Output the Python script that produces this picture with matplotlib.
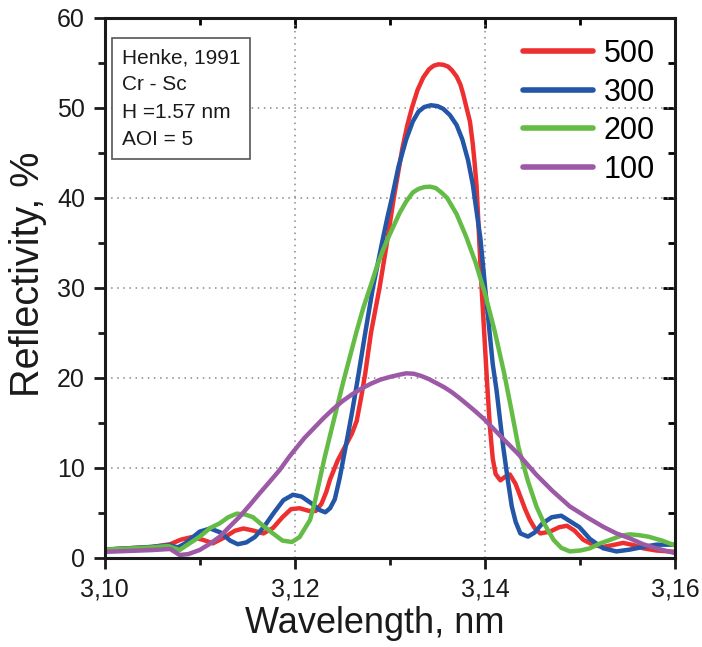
import matplotlib
matplotlib.use("Agg")
import matplotlib.pyplot as plt
from matplotlib.ticker import MultipleLocator, FuncFormatter

plt.rcParams["font.family"] = ["Liberation Sans", "DejaVu Sans"]

# Wellenlaenge (nm) und Reflektivitaet (%) je Periodenzahl
wl_500 = [3.1000, 3.1050, 3.1069, 3.1080, 3.1092, 3.1103, 3.1114, 3.1125, 3.1137, 3.1146,
          3.1157, 3.1167, 3.1177, 3.1187, 3.1196, 3.1205, 3.1215, 3.1222, 3.1228, 3.1233,
          3.1237, 3.1245, 3.1253, 3.1260, 3.1265, 3.1270, 3.1274, 3.1280, 3.1289, 3.1296,
          3.1304, 3.1313, 3.1318, 3.1323, 3.1329, 3.1335, 3.1341, 3.1346, 3.1351, 3.1356,
          3.1361, 3.1365, 3.1370, 3.1374, 3.1377, 3.1380, 3.1384, 3.1387, 3.1389, 3.1391,
          3.1393, 3.1396, 3.1399, 3.1402, 3.1405, 3.1408, 3.1411, 3.1416, 3.1421, 3.1426,
          3.1432, 3.1437, 3.1442, 3.1447, 3.1452, 3.1458, 3.1468, 3.1478, 3.1486, 3.1494,
          3.1503, 3.1514, 3.1524, 3.1534, 3.1545, 3.1556, 3.1566, 3.1580, 3.1600]
r_500 = [0.9, 1.2, 1.5, 2.0, 2.3, 2.0, 1.6, 2.2, 3.0, 3.25,
         3.0, 2.7, 3.3, 4.5, 5.4, 5.5, 5.2, 5.2, 6.0, 7.3,
         8.7, 10.8, 12.4, 13.8, 15.2, 18.0, 20.5, 25.0, 30.0, 34.5,
         40.0, 45.5, 48.0, 50.0, 52.0, 53.4, 54.3, 54.7, 54.85, 54.8,
         54.6, 54.2, 53.5, 52.6, 51.5, 50.2, 48.5, 46.0, 43.8, 41.3,
         37.0, 30.5, 25.0, 19.5, 14.5, 11.0, 9.3, 8.6, 9.0, 9.25,
         8.2, 6.8, 5.4, 4.2, 3.3, 2.7, 2.9, 3.4, 3.55, 3.0,
         2.0, 1.4, 1.2, 1.4, 1.65, 1.4, 1.05, 0.8, 0.65]

wl_300 = [3.1000, 3.1050, 3.1068, 3.1077, 3.1085, 3.1093, 3.1100, 3.1111, 3.1122, 3.1132,
          3.1140, 3.1149, 3.1158, 3.1168, 3.1178, 3.1188, 3.1198, 3.1207, 3.1218, 3.1226,
          3.1232, 3.1237, 3.1242, 3.1247, 3.1251, 3.1256, 3.1260, 3.1266, 3.1274, 3.1282,
          3.1287, 3.1292, 3.1297, 3.1302, 3.1309, 3.1317, 3.1324, 3.1330, 3.1336, 3.1343,
          3.1350, 3.1356, 3.1363, 3.1370, 3.1376, 3.1382, 3.1387, 3.1391, 3.1395, 3.1400,
          3.1403, 3.1408, 3.1412, 3.1419, 3.1424, 3.1428, 3.1432, 3.1437, 3.1445, 3.1452,
          3.1460, 3.1470, 3.1480, 3.1490, 3.1499, 3.1510, 3.1524, 3.1538, 3.1552, 3.1566,
          3.1580, 3.1600]
r_300 = [0.9, 1.2, 1.4, 1.15, 1.6, 2.3, 2.9, 3.25, 2.8, 1.9,
         1.5, 1.7, 2.3, 3.5, 5.0, 6.4, 7.0, 6.8, 6.0, 5.3,
         5.05, 5.5, 6.5, 8.8, 11.0, 13.8, 16.1, 19.8, 25.0, 30.0,
         32.6, 35.2, 37.7, 40.0, 43.5, 46.5, 48.5, 49.6, 50.1, 50.3,
         50.2, 49.9, 49.2, 48.1, 46.5, 44.2, 41.5, 38.5, 35.5, 30.0,
         26.8, 21.5, 18.6, 12.3, 8.5, 5.7, 4.0, 2.7, 2.35, 2.8,
         3.8, 4.5, 4.67, 4.0, 3.4, 2.1, 1.05, 0.7, 0.9, 1.2,
         1.45, 1.45]

wl_200 = [3.1000, 3.1050, 3.1067, 3.1079, 3.1088, 3.1100, 3.1111, 3.1121, 3.1130, 3.1139,
          3.1148, 3.1156, 3.1165, 3.1177, 3.1187, 3.1197, 3.1205, 3.1216, 3.1221, 3.1226,
          3.1231, 3.1237, 3.1244, 3.1251, 3.1258, 3.1265, 3.1272, 3.1279, 3.1286, 3.1293,
          3.1300, 3.1310, 3.1317, 3.1324, 3.1330, 3.1336, 3.1342, 3.1348, 3.1354, 3.1360,
          3.1370, 3.1380, 3.1390, 3.1400, 3.1410, 3.1420, 3.1428, 3.1435, 3.1445, 3.1454,
          3.1462, 3.1472, 3.1480, 3.1489, 3.1500, 3.1510, 3.1521, 3.1531, 3.1543, 3.1552,
          3.1562, 3.1572, 3.1586, 3.1600]
r_200 = [0.9, 1.15, 1.3, 0.86, 1.5, 2.33, 3.3, 3.82, 4.5, 4.9,
         4.8, 4.5, 3.7, 2.7, 1.9, 1.75, 2.3, 4.2, 6.2, 8.6,
         11.0, 13.6, 16.6, 19.6, 22.4, 25.2, 27.8, 30.0, 32.3, 34.3,
         36.0, 38.3, 39.6, 40.6, 41.0, 41.2, 41.25, 41.1, 40.6, 40.0,
         38.2, 35.7, 32.8, 29.3, 25.2, 20.5, 16.2, 12.3, 8.5, 5.67,
         3.8, 1.97, 1.1, 0.7, 0.8, 1.04, 1.6, 1.97, 2.45, 2.6,
         2.5, 2.33, 1.9, 1.35]

wl_100 = [3.1000, 3.1050, 3.1069, 3.1079, 3.1088, 3.1100, 3.1110, 3.1121, 3.1131, 3.1142,
          3.1153, 3.1163, 3.1174, 3.1184, 3.1194, 3.1200, 3.1210, 3.1220, 3.1230, 3.1240,
          3.1250, 3.1260, 3.1270, 3.1280, 3.1290, 3.1300, 3.1310, 3.1317, 3.1325, 3.1333,
          3.1341, 3.1349, 3.1357, 3.1365, 3.1373, 3.1381, 3.1390, 3.1400, 3.1410, 3.1420,
          3.1435, 3.1454, 3.1471, 3.1489, 3.1507, 3.1524, 3.1538, 3.1552, 3.1566, 3.1580,
          3.1600]
r_100 = [0.65, 0.85, 0.97, 0.3, 0.4, 0.86, 1.5, 2.33, 3.4, 4.56,
         5.9, 7.16, 8.5, 9.74, 11.2, 12.0, 13.3, 14.4, 15.5, 16.5,
         17.4, 18.15, 18.8, 19.35, 19.8, 20.1, 20.35, 20.5, 20.45, 20.2,
         19.85, 19.4, 18.95, 18.4, 17.75, 17.05, 16.25, 15.3, 14.2, 13.1,
         11.5, 9.2, 7.4, 5.7, 4.5, 3.44, 2.7, 2.15, 1.5, 1.04,
         0.5]

info_lines = ["Henke, 1991", "Cr - Sc", "H =1.57 nm", "AOI = 5"]

fig = plt.figure(figsize=(7.02, 6.47), dpi=100)
ax = fig.add_axes([0.1489, 0.138, 0.8133, 0.8342])

line_kw = dict(lw=3.2, solid_joinstyle="round", solid_capstyle="round")
ax.plot(wl_500, r_500, color="#ee2f2f", label="500", **line_kw)
ax.plot(wl_300, r_300, color="#2356a6", label="300", **line_kw)
ax.plot(wl_200, r_200, color="#64bc47", label="200", **line_kw)
ax.plot(wl_100, r_100, color="#9c59a5", label="100", **line_kw)

ax.set_xlim(3.10, 3.16)
ax.set_ylim(0, 60)
ax.xaxis.set_major_locator(MultipleLocator(0.02))
ax.xaxis.set_minor_locator(MultipleLocator(0.01))
ax.yaxis.set_major_locator(MultipleLocator(10))
ax.yaxis.set_minor_locator(MultipleLocator(5))
ax.xaxis.set_major_formatter(FuncFormatter(lambda v, p: f"{v:.2f}".replace(".", ",")))

ax.grid(True, which="major", color="#888888", linestyle=(0, (1, 3)), lw=1.1)
for s in ax.spines.values():
    s.set_linewidth(2.2)
    s.set_color("#1a1a1a")

ax.tick_params(axis="both", which="major", direction="out", length=8, width=2,
               labelsize=18, colors="#1a1a1a", pad=6)
ax.tick_params(axis="both", which="minor", direction="out", length=5, width=2, colors="#1a1a1a")
# Gegenachsen mit nach innen zeigenden Ticks
axr = ax.secondary_yaxis("right")
axr.yaxis.set_major_locator(MultipleLocator(10))
axr.yaxis.set_minor_locator(MultipleLocator(5))
axr.tick_params(which="major", direction="in", length=9, width=2, labelright=False)
axr.tick_params(which="minor", direction="in", length=5, width=2)
axt = ax.secondary_xaxis("top")
axt.xaxis.set_major_locator(MultipleLocator(0.02))
axt.xaxis.set_minor_locator(MultipleLocator(0.01))
axt.tick_params(which="major", direction="in", length=7, width=2, labeltop=False)
axt.tick_params(which="minor", direction="in", length=5, width=2)

ax.set_xlabel("Wavelength, nm", fontsize=26, color="#1a1a1a")
ax.set_ylabel("Reflectivity, %", fontsize=28.5, color="#1a1a1a")
ax.xaxis.set_label_coords(0.474, -0.09)
ax.yaxis.set_label_coords(-0.1, 0.525)

ax.text(0.03, 0.944, "\n".join(info_lines), transform=ax.transAxes, fontsize=15,
        va="top", ha="left", linespacing=1.55, color="#1a1a1a",
        bbox=dict(boxstyle="square,pad=0.48", fc="white", ec="#555555", lw=1.2))

leg = ax.legend(loc="upper right", bbox_to_anchor=(0.996, 0.995), frameon=False, fontsize=22,
                handlelength=2.3, handletextpad=0.35, labelspacing=0.28, borderaxespad=0.2)
for h in leg.get_lines():
    h.set_linewidth(4)

fig.savefig("out.png", dpi=100)
